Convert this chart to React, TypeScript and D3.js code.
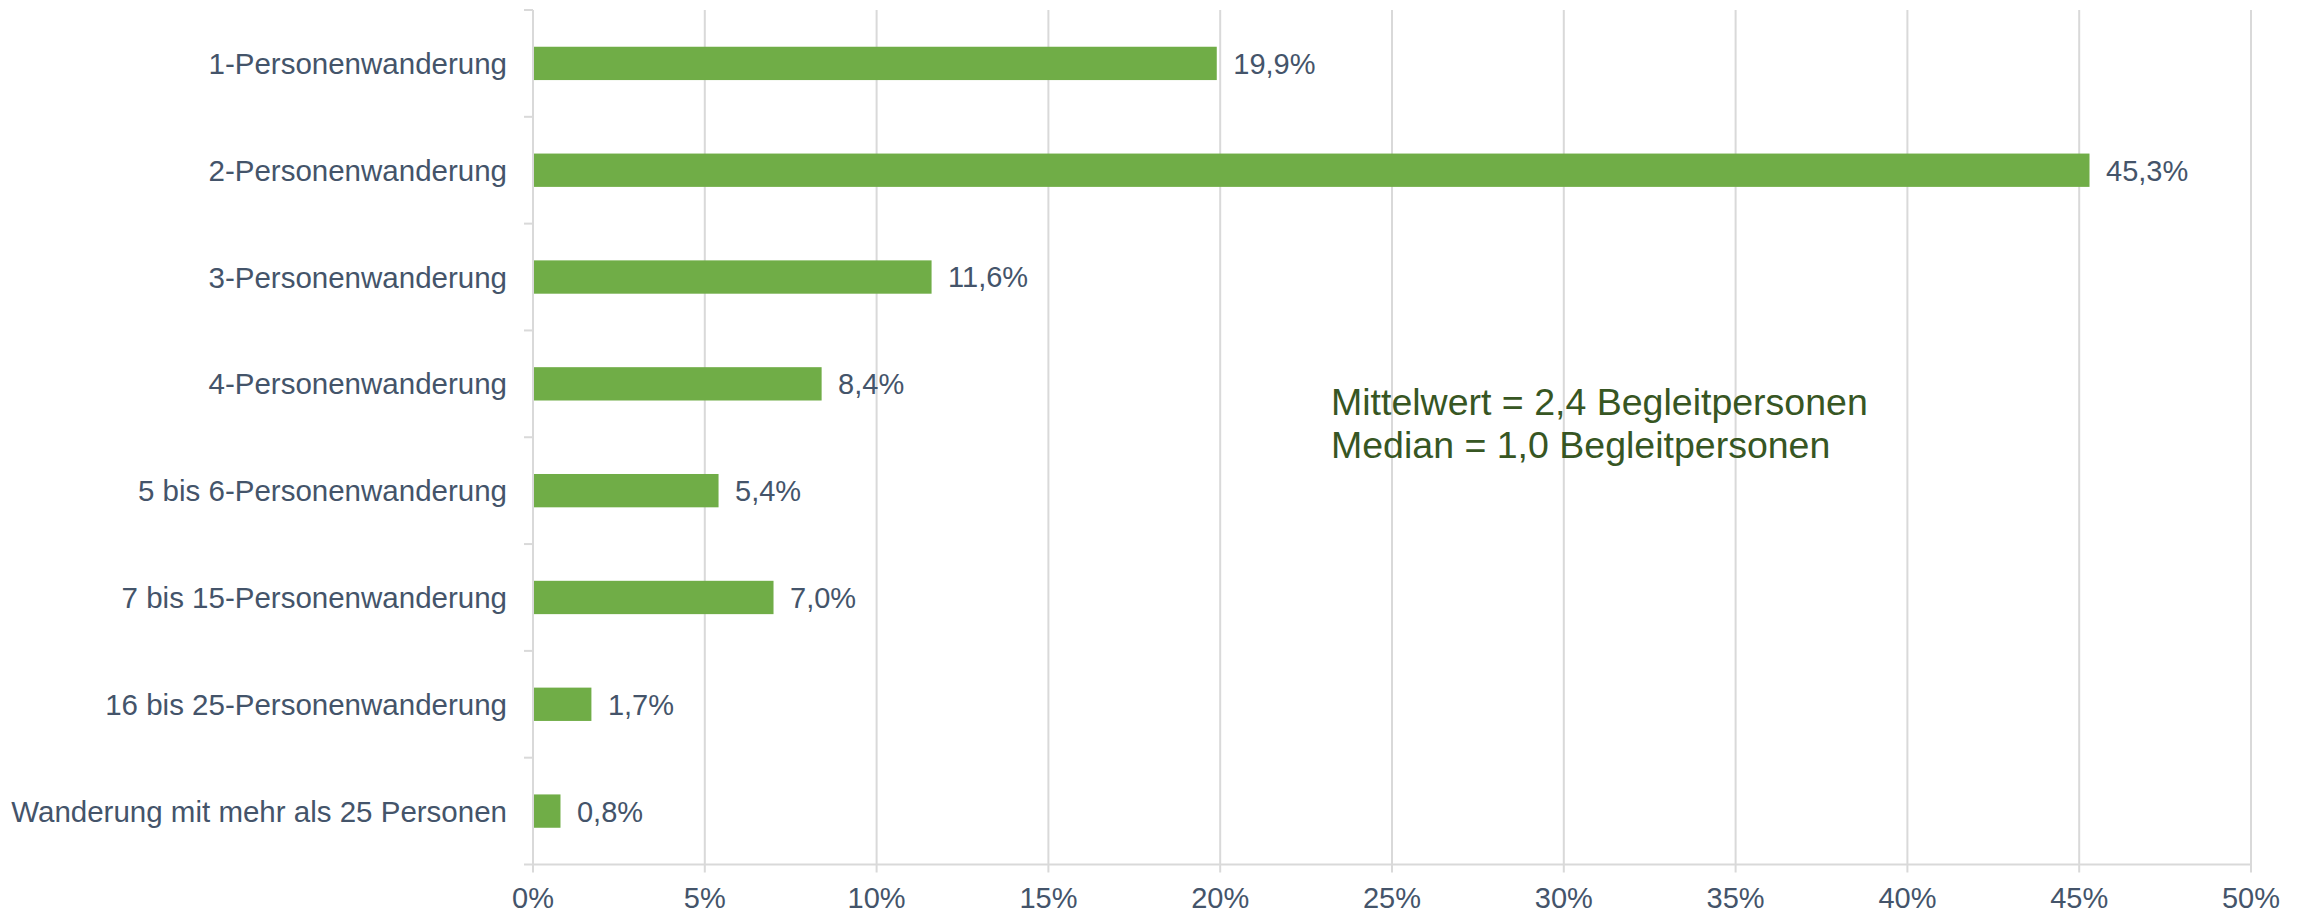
import React from "react";
import * as d3 from "d3";

const categories: string[] = [
  "1-Personenwanderung",
  "2-Personenwanderung",
  "3-Personenwanderung",
  "4-Personenwanderung",
  "5 bis 6-Personenwanderung",
  "7 bis 15-Personenwanderung",
  "16 bis 25-Personenwanderung",
  "Wanderung mit mehr als 25 Personen",
];
const values: number[] = [19.9, 45.3, 11.6, 8.4, 5.4, 7.0, 1.7, 0.8];
const xTicks: number[] = [0, 5, 10, 15, 20, 25, 30, 35, 40, 45, 50];
const annotationLines: string[] = [
  "Mittelwert = 2,4 Begleitpersonen",
  "Median = 1,0 Begleitpersonen",
];

const W = 2310;
const H = 913;
const TEXT = "#44546A";
const GRID = "#D9D9D9";
const BAR = "#70AD47";
const ANNO = "#375623";
const FONT = "Arial, 'Liberation Sans', Helvetica, sans-serif";

export default function App() {
  const x = d3.scaleLinear().domain([0, 50]).range([533, 2251]);
  const y = d3
    .scaleBand<string>()
    .domain(categories)
    .range([10, 864.5])
    .paddingInner(0.688)
    .paddingOuter(0.344);
  const step = y.step();
  const bandStarts = categories.map((_, i) => 10 + i * step);
  const fmt = (v: number) => v.toFixed(1).replace(".", ",") + "%";
  const axisY = 864.5;

  return (
    <div style={{ position: "absolute", left: 0, top: 0 }}>
      <svg width={W} height={H} style={{ display: "block", fontFamily: FONT }}>
        <rect x={0} y={0} width={W} height={H} fill="#fff" />
        {/* vertical gridlines */}
        {xTicks.map((t) => (
          <line
            key={"g" + t}
            x1={x(t)}
            x2={x(t)}
            y1={10}
            y2={axisY + 8}
            stroke={GRID}
            strokeWidth={2}
          />
        ))}
        {/* x axis line */}
        <line x1={x(0) - 9} x2={x(50)} y1={axisY} y2={axisY} stroke={GRID} strokeWidth={2} />
        {/* y axis ticks */}
        {bandStarts.map((b, i) => (
          <line key={"yt" + i} x1={x(0) - 9} x2={x(0)} y1={b} y2={b} stroke={GRID} strokeWidth={2} />
        ))}
        {/* bars */}
        {categories.map((c, i) => (
          <rect
            key={"b" + c}
            x={x(0) + 1}
            y={y(c)}
            width={x(values[i]) - x(0) - 1}
            height={y.bandwidth()}
            fill={BAR}
          />
        ))}
        {/* data labels */}
        {categories.map((c, i) => (
          <text
            key={"d" + c}
            x={x(values[i]) + 16.5}
            y={(y(c) as number) + y.bandwidth() / 2}
            dy="0.36em"
            fontSize={29}
            fill={TEXT}
          >
            {fmt(values[i])}
          </text>
        ))}
        {/* category labels */}
        {categories.map((c) => (
          <text
            key={"c" + c}
            x={507}
            y={(y(c) as number) + y.bandwidth() / 2}
            dy="0.36em"
            fontSize={29.5}
            textAnchor="end"
            fill={TEXT}
          >
            {c}
          </text>
        ))}
        {/* x tick labels */}
        {xTicks.map((t) => (
          <text key={"xt" + t} x={x(t)} y={908} fontSize={29} textAnchor="middle" fill={TEXT}>
            {t + "%"}
          </text>
        ))}
        {/* annotation */}
        {annotationLines.map((l, i) => (
          <text key={"a" + i} x={1331} y={415 + i * 43.3} fontSize={37.5} fill={ANNO}>
            {l}
          </text>
        ))}
      </svg>
    </div>
  );
}
